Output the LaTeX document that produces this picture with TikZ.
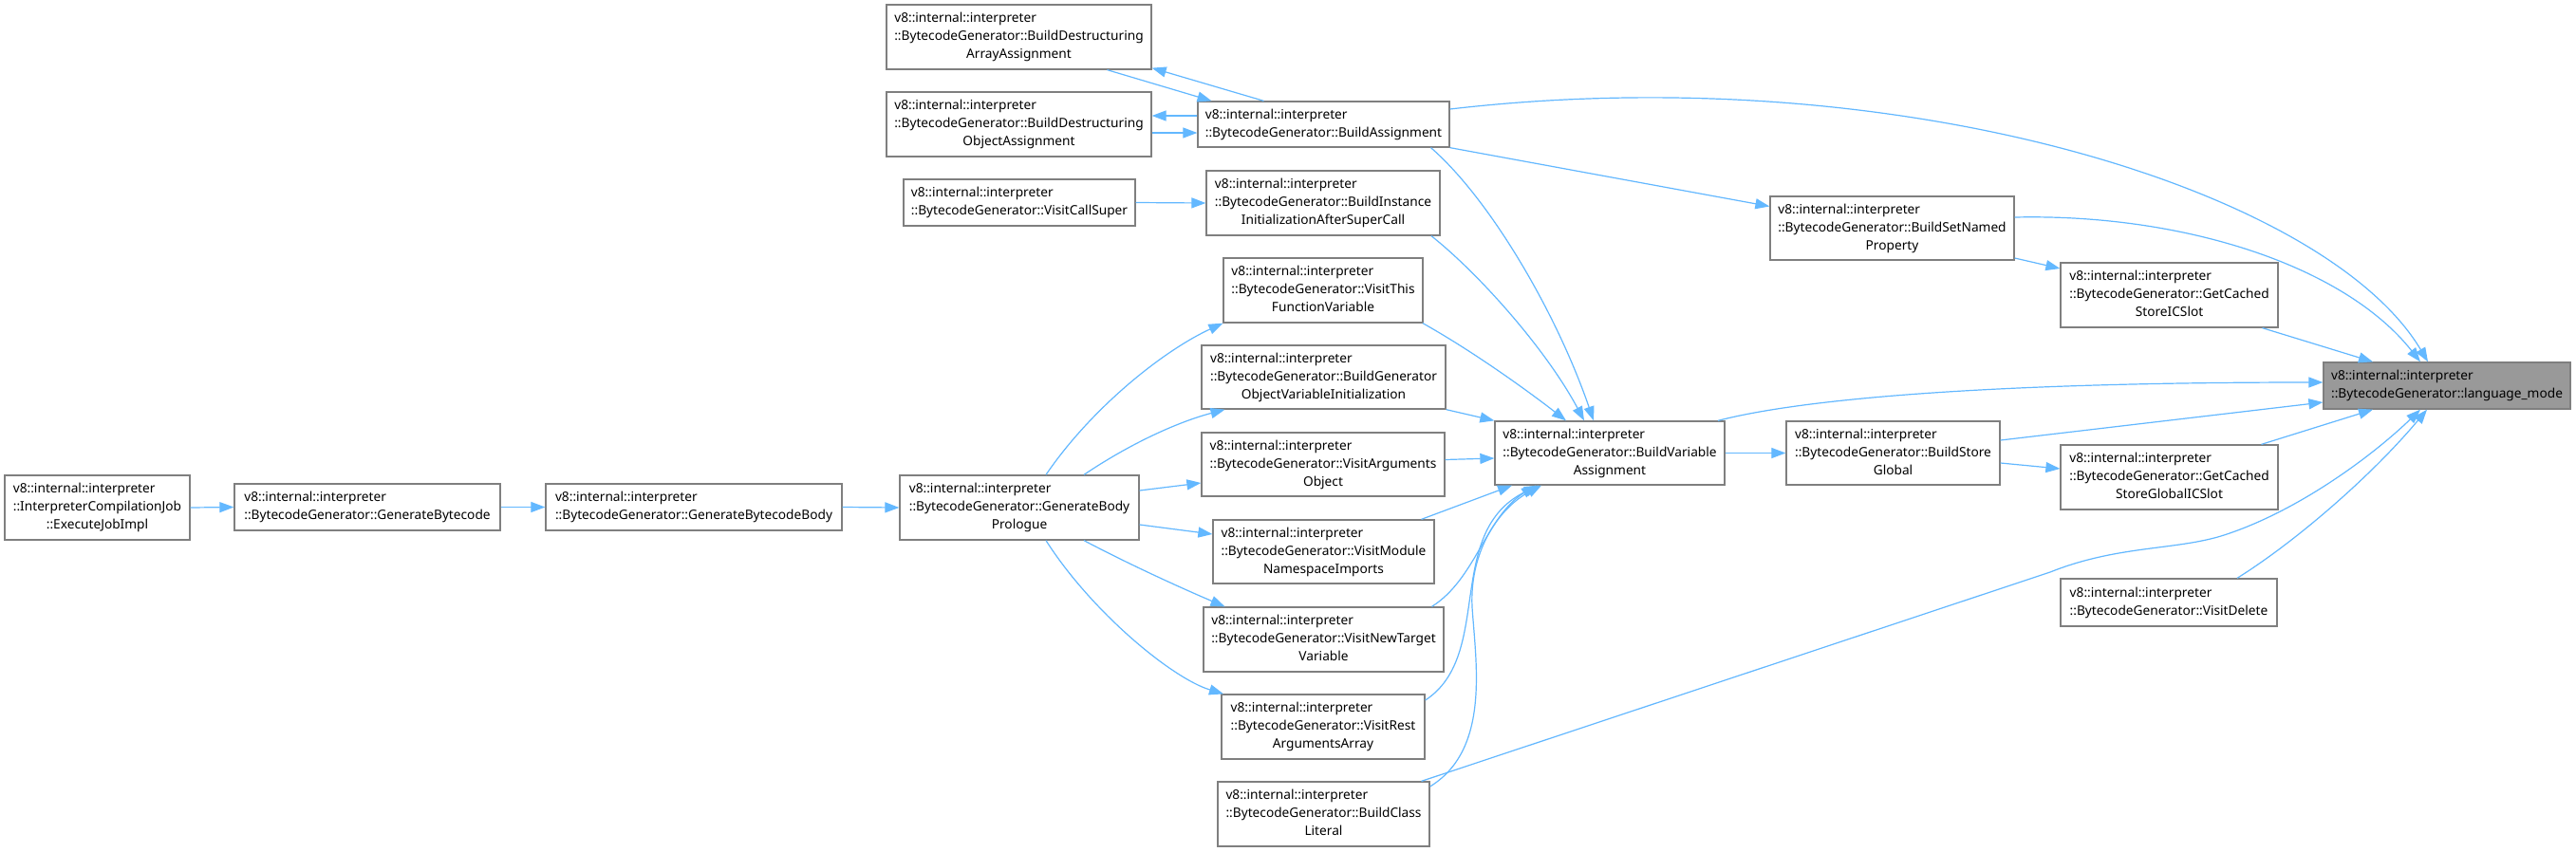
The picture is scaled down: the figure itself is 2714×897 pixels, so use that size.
\documentclass[tikz,border=0pt]{standalone}
\usepackage{fontspec}
\setmainfont{Noto Sans}
\usetikzlibrary{arrows.meta}
\definecolor{edgeblue}{HTML}{63B8FF}
\definecolor{boxgray}{HTML}{7F7F7F}
\definecolor{selgray}{HTML}{999999}
\newcommand{\threel}[3]{\begin{tabular}{@{}l@{}}#1\\#2\\\multicolumn{1}{@{}c@{}}{#3}\end{tabular}}
\newcommand{\twol}[2]{\begin{tabular}{@{}l@{}}#1\\#2\end{tabular}}
\tikzset{
  fnbox/.style={draw=boxgray, fill=white, line width=1.3pt, inner sep=0pt, font=\fontsize{13.7}{19}\selectfont},
  call/.style={draw=edgeblue, line width=1.2pt, -{Triangle[length=15pt,width=11pt]}},
}
\begin{document}
\begin{tikzpicture}[x=1pt,y=-1pt]
\useasboundingbox[fill=white] (0,0) rectangle (2714,897);
% nodes
\node[fnbox, minimum width=195pt, minimum height=68pt] (exec) at (102.5,535) {\threel{v8::internal::interpreter}{::InterpreterCompilationJob}{::ExecuteJobImpl}};
\node[fnbox, minimum width=280pt, minimum height=49pt] (genbc) at (387,534.5) {\twol{v8::internal::interpreter}{::BytecodeGenerator::GenerateBytecode}};
\node[fnbox, minimum width=312pt, minimum height=49pt] (genbody) at (731,534.5) {\twol{v8::internal::interpreter}{::BytecodeGenerator::GenerateBytecodeBody}};
\node[fnbox, minimum width=252pt, minimum height=68pt] (prologue) at (1074,535) {\threel{v8::internal::interpreter}{::BytecodeGenerator::GenerateBody}{Prologue}};
\node[fnbox, minimum width=279pt, minimum height=68pt] (arrassign) at (1073.5,39) {\threel{v8::internal::interpreter}{::BytecodeGenerator::BuildDestructuring}{ArrayAssignment}};
\node[fnbox, minimum width=279pt, minimum height=68pt] (objassign) at (1073.5,131) {\threel{v8::internal::interpreter}{::BytecodeGenerator::BuildDestructuring}{ObjectAssignment}};
\node[fnbox, minimum width=265pt, minimum height=48pt] (buildassign) at (1394.5,131) {\twol{v8::internal::interpreter}{::BytecodeGenerator::BuildAssignment}};
\node[fnbox, minimum width=244pt, minimum height=49pt] (callsuper) at (1074,213.5) {\twol{v8::internal::interpreter}{::BytecodeGenerator::VisitCallSuper}};
\node[fnbox, minimum width=246pt, minimum height=68pt] (instinit) at (1394,214) {\threel{v8::internal::interpreter}{::BytecodeGenerator::BuildInstance}{InitializationAfterSuperCall}};
\node[fnbox, minimum width=210pt, minimum height=68pt] (thisfn) at (1394,306) {\threel{v8::internal::interpreter}{::BytecodeGenerator::VisitThis}{FunctionVariable}};
\node[fnbox, minimum width=257pt, minimum height=67pt] (genobj) at (1394.5,397.5) {\threel{v8::internal::interpreter}{::BytecodeGenerator::BuildGenerator}{ObjectVariableInitialization}};
\node[fnbox, minimum width=256pt, minimum height=67pt] (argsobj) at (1394,489.5) {\threel{v8::internal::interpreter}{::BytecodeGenerator::VisitArguments}{Object}};
\node[fnbox, minimum width=233pt, minimum height=67pt] (modns) at (1394.5,581.5) {\threel{v8::internal::interpreter}{::BytecodeGenerator::VisitModule}{NamespaceImports}};
\node[fnbox, minimum width=253pt, minimum height=68pt] (newtarget) at (1394.5,674) {\threel{v8::internal::interpreter}{::BytecodeGenerator::VisitNewTarget}{Variable}};
\node[fnbox, minimum width=214pt, minimum height=68pt] (restargs) at (1394,766) {\threel{v8::internal::interpreter}{::BytecodeGenerator::VisitRest}{ArgumentsArray}};
\node[fnbox, minimum width=223pt, minimum height=68pt] (classlit) at (1394.5,858) {\threel{v8::internal::interpreter}{::BytecodeGenerator::BuildClass}{Literal}};
\node[fnbox, minimum width=242pt, minimum height=67pt] (bva) at (1696,477.5) {\threel{v8::internal::interpreter}{::BytecodeGenerator::BuildVariable}{Assignment}};
\node[fnbox, minimum width=257pt, minimum height=67pt] (setnamed) at (1993.5,240.5) {\threel{v8::internal::interpreter}{::BytecodeGenerator::BuildSetNamed}{Property}};
\node[fnbox, minimum width=229pt, minimum height=68pt] (storeic) at (2285.5,311) {\threel{v8::internal::interpreter}{::BytecodeGenerator::GetCached}{StoreICSlot}};
\node[fnbox, minimum width=225pt, minimum height=67pt] (storeglobal) at (1994.5,477.5) {\threel{v8::internal::interpreter}{::BytecodeGenerator::BuildStore}{Global}};
\node[fnbox, minimum width=229pt, minimum height=68pt] (storeglobalic) at (2285.5,503) {\threel{v8::internal::interpreter}{::BytecodeGenerator::GetCached}{StoreGlobalICSlot}};
\node[fnbox, minimum width=228pt, minimum height=50pt] (visitdelete) at (2285,635) {\twol{v8::internal::interpreter}{::BytecodeGenerator::VisitDelete}};
\node[fnbox, fill=selgray, minimum width=260pt, minimum height=49pt] (lm) at (2578,406.5) {\twol{v8::internal::interpreter}{::BytecodeGenerator::language\_mode}};
% edges
\draw[call] (exec.east) -- (genbc.west);
\draw[call] (genbc.east) -- (genbody.west);
\draw[call] (genbody.east) -- (prologue.west);
\draw[call] ([xshift=28pt]prologue.north) .. controls (1150,430) and (1225,370) .. (thisfn.south west);
\draw[call] ([xshift=68pt]prologue.north) .. controls (1190,468) and (1240,445) .. ([xshift=-104pt]genobj.south);
\draw[call] ([yshift=18pt]prologue.east) -- ([yshift=-19.5pt]argsobj.west);
\draw[call] ([yshift=-18pt]prologue.east) -- ([yshift=18.5pt]modns.west);
\draw[call] ([xshift=68pt]prologue.south) .. controls (1190,595) and (1245,620) .. ([xshift=-104pt]newtarget.north);
\draw[call] ([xshift=28pt]prologue.south) .. controls (1150,645) and (1235,715) .. ([xshift=-105pt]restargs.north);
\draw[call] ([xshift=93pt]arrassign.south) -- ([xshift=-118pt]buildassign.north);
\draw[call] ([xshift=-63pt]buildassign.north) -- ([yshift=2pt]arrassign.south east);
\draw[call] ([yshift=9pt]buildassign.west) -- ([yshift=9pt]objassign.east);
\draw[call] ([yshift=-9pt]objassign.east) -- ([yshift=-9pt]buildassign.west);
\draw[call] ([yshift=16pt]buildassign.east) .. controls (2000,60) and (2450,200) .. ([xshift=-20pt]lm.north);
\draw[call] (buildassign.south east) -- ([yshift=23pt]setnamed.west);
\draw[call] ([xshift=113pt]buildassign.south) .. controls (1570,210) and (1640,330) .. ([xshift=-17pt]bva.north);
\draw[call] ([xshift=114pt]instinit.south) .. controls (1560,290) and (1630,370) .. ([xshift=-27pt]bva.north);
\draw[call] (callsuper.east) -- (instinit.west);
\draw[call] ([xshift=105pt]thisfn.south) .. controls (1560,375) and (1620,420) .. ([xshift=-46pt]bva.north);
\draw[call] (genobj.south east) -- (bva.north west);
\draw[call] ([yshift=5pt]argsobj.east) -- ([yshift=-5.5pt]bva.west);
\draw[call] ([xshift=103pt]modns.north) -- ([xshift=-103pt]bva.south);
\draw[call] ([xshift=114pt]newtarget.north) .. controls (1555,610) and (1565,545) .. ([xshift=-78pt]bva.south);
\draw[call] ([yshift=28pt]restargs.east) .. controls (1575,690) and (1520,560) .. ([xshift=-75pt]bva.south);
\draw[call] ([yshift=29pt]classlit.east) .. controls (1570,790) and (1555,700) .. (1551,640) .. controls (1548,580) and (1580,535) .. ([xshift=-72pt]bva.south);
\draw[call] ([xshift=103pt]classlit.north) -- (2160,603) .. controls (2230,575) and (2290,580) .. (2340,565) .. controls (2420,540) and (2500,480) .. ([xshift=-28pt]lm.south);
\draw[call] ([xshift=114pt]bva.north) .. controls (1900,420) and (2100,403) .. ([yshift=3.5pt]lm.west);
\draw[call] (bva.east) -- (storeglobal.west);
\draw[call] ([yshift=13.5pt]storeglobal.east) -- ([yshift=-17.5pt]lm.west);
\draw[call] ([yshift=-10.5pt]storeglobal.east) -- ([yshift=9pt]storeglobalic.west);
\draw[call] ([xshift=97pt]storeglobalic.north) -- ([xshift=-78pt]lm.south);
\draw[call] ([xshift=72pt]visitdelete.north) .. controls (2420,570) and (2500,500) .. ([xshift=-21pt]lm.south);
\draw[call] ([yshift=11.5pt]setnamed.east) .. controls (2300,225) and (2470,280) .. ([xshift=-28pt]lm.north);
\draw[call] ([yshift=-31.5pt]setnamed.east) -- ([yshift=28pt]storeic.west);
\draw[call] ([xshift=98pt]storeic.south) -- ([xshift=-78pt]lm.north);
\end{tikzpicture}
\end{document}
